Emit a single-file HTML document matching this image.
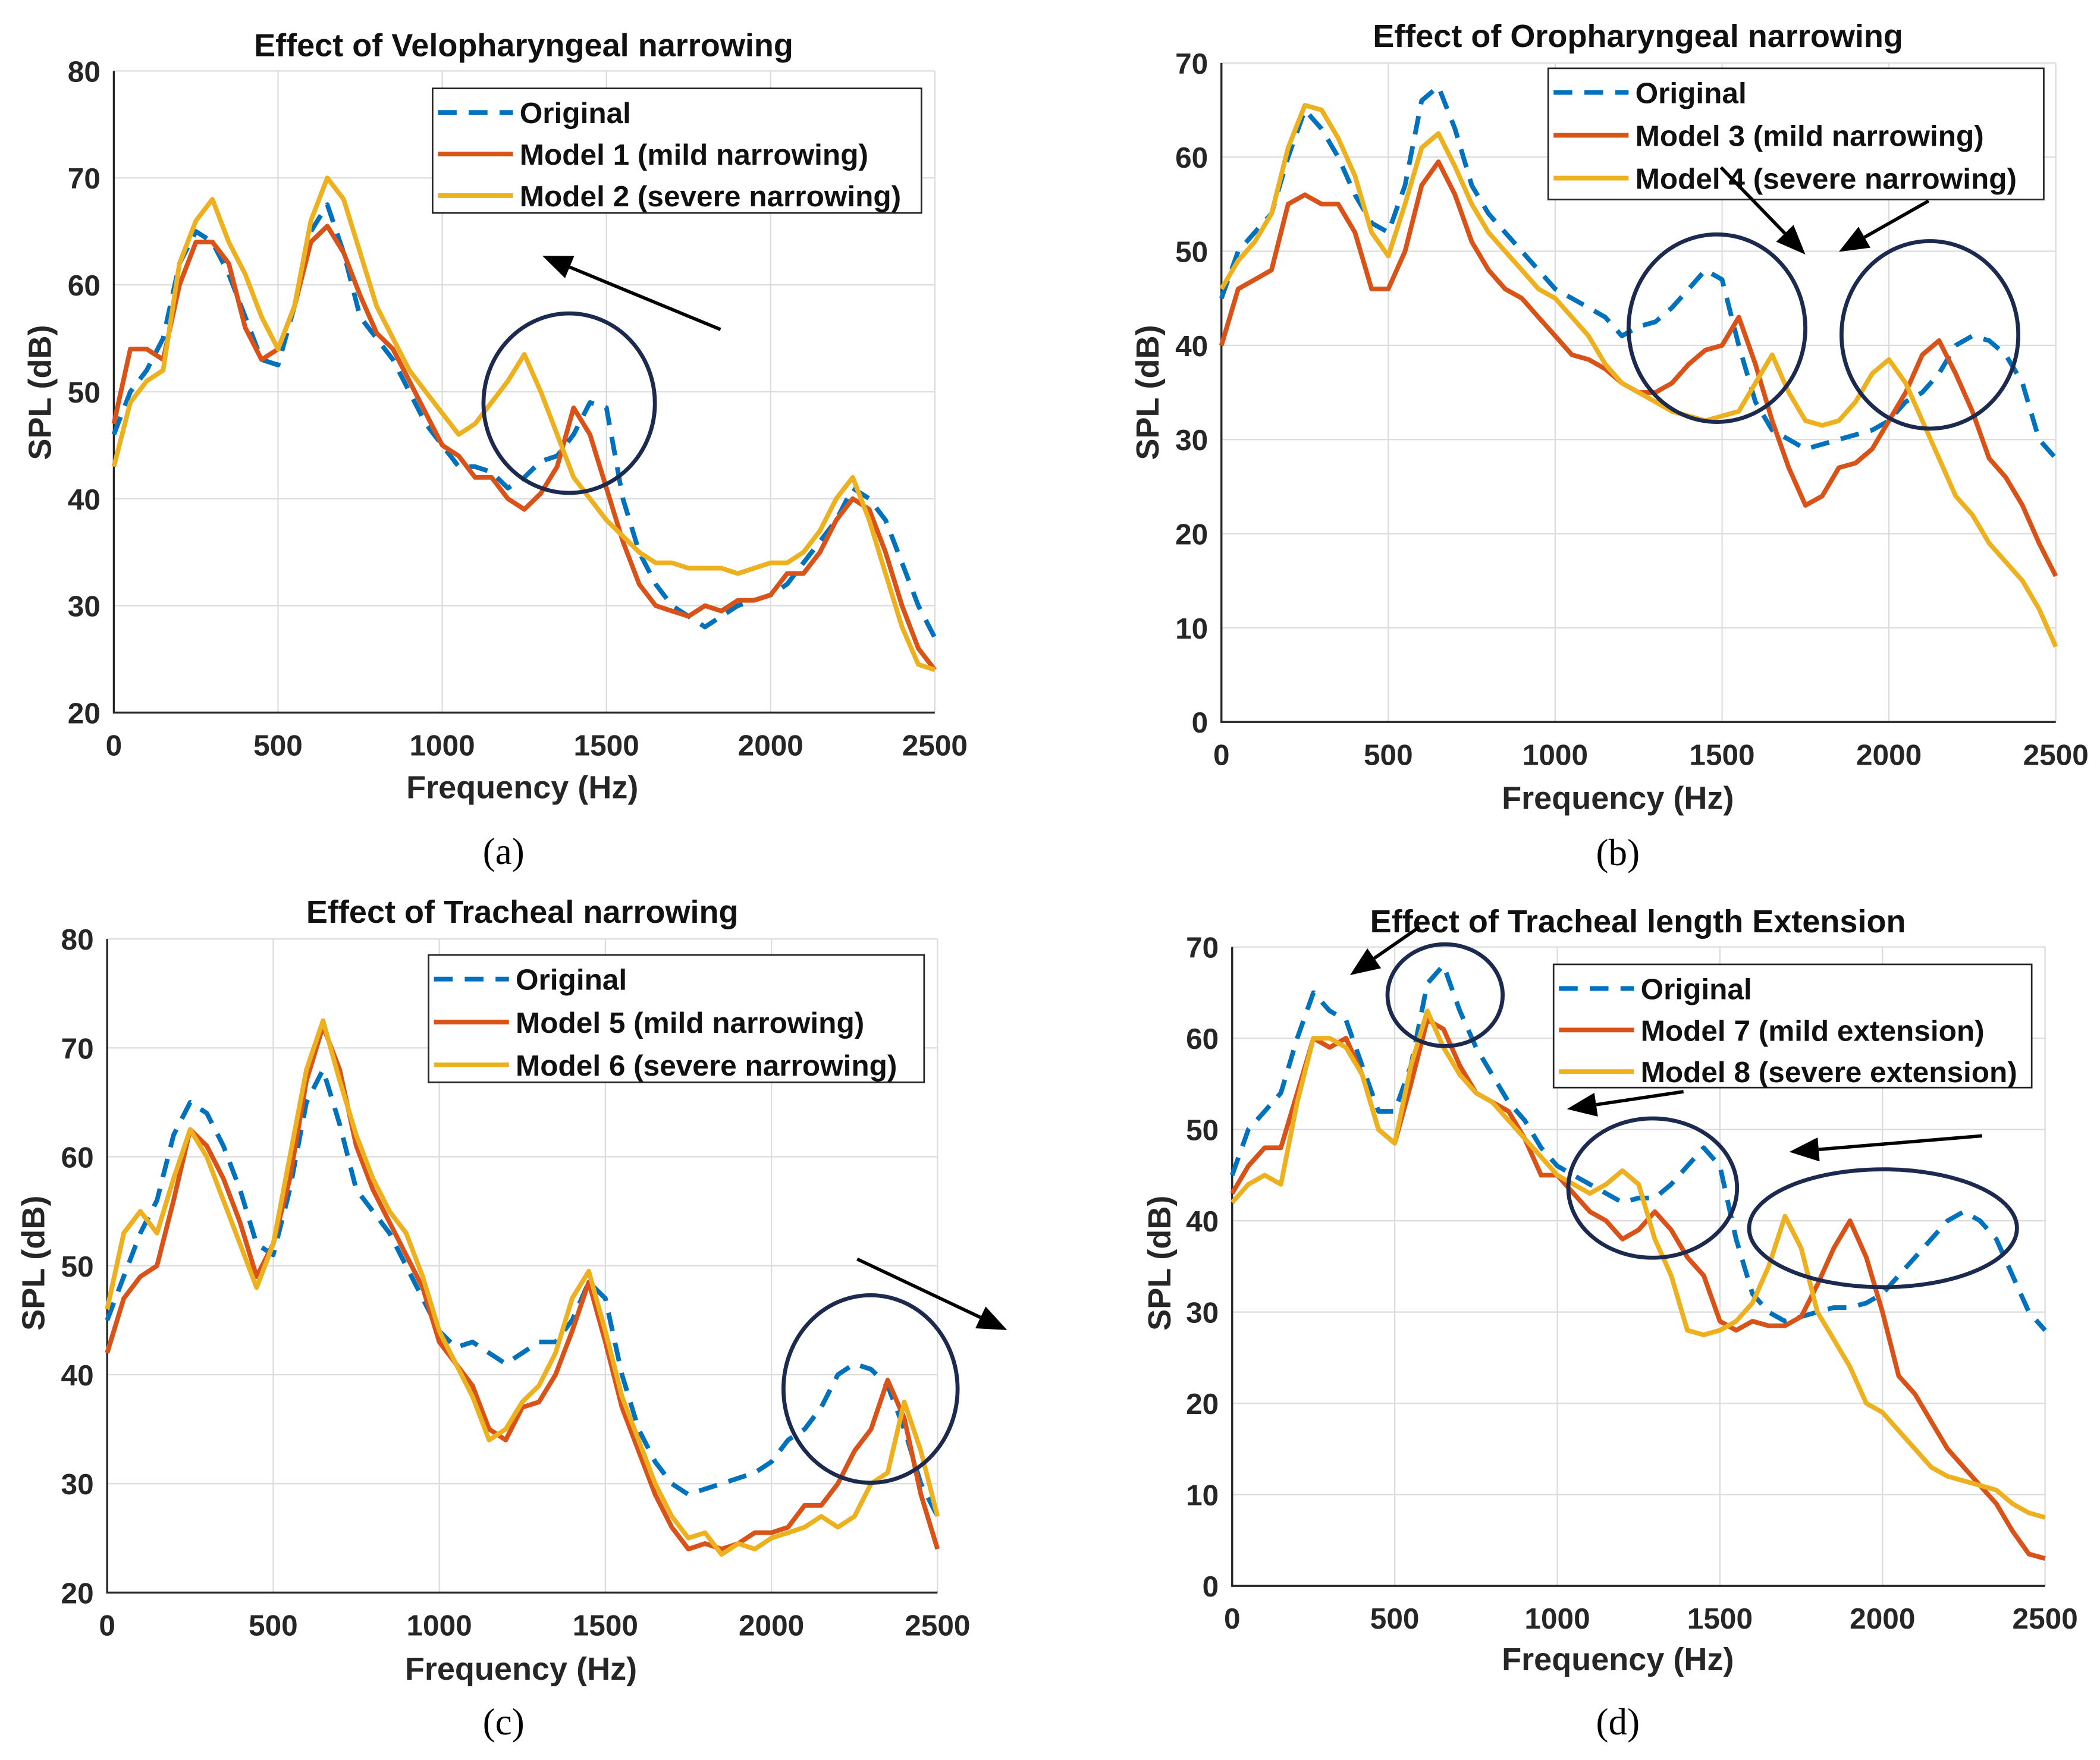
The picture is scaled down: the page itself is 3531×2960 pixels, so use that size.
<!DOCTYPE html>
<html><head><meta charset="utf-8"><style>
html,body{margin:0;padding:0;background:#fff;}
svg{display:block;}
</style></head><body>
<svg id="fig" width="3531" height="2960" viewBox="0 0 1568 1314" preserveAspectRatio="none" xmlns="http://www.w3.org/2000/svg" font-family="Liberation Sans, Arial, sans-serif"></svg>
<script>
const freqs=[];for(let f=0;f<=2500;f+=50)freqs.push(f);
const xTicks=[0,500,1000,1500,2000,2500];
const yTicksA=[20,30,40,50,60,70,80];
const yTicksB=[0,10,20,30,40,50,60,70];
const origA=[46,50,52,55,62,65,64,61,57,53,52.5,58,65,67.5,63,57,55,53,50,47,45,43,43,42.5,41,42,43.5,44,46,49,48.5,40,35,32,30,29,28,29,30,30.5,31,32,34,36,38,41,40,38,34,30,27];
const m1A=[47,54,54,53,60,64,64,62,56,53,54,58,64,65.5,63,59,55.5,54,51,48,45,44,42,42,40,39,40.5,43,48.5,46,41,36,32,30,29.5,29,30,29.5,30.5,30.5,31,33,33,35,38,40,39,35,30,26,24];
const m2A=[43,49,51,52,62,66,68,64,61,57,54,58,66,70,68,63,58,55,52,50,48,46,47,49,51,53.5,50,46,42,40,38,36.5,35,34,34,33.5,33.5,33.5,33,33.5,34,34,35,37,40,42,38,33,28,24.5,24];
const origB=[45,50,52,54,60,65,63,60,56,53,52,57,66,67.5,63,57,54,52,50,48,46,45,44,43,41,42,42.5,44,46,48,47,40,34,31,30,29,29.5,30,30.5,31,32,34,35,37,40,41,40.5,39,36,30,28];
const m3B=[40,46,47,48,55,56,55,55,52,46,46,50,57,59.5,56,51,48,46,45,43,41,39,38.5,37.5,36,35,35,36,38,39.5,40,43,38,32,27,23,24,27,27.5,29,32,35,39,40.5,37,33,28,26,23,19,15.5];
const m4B=[46,49,51,54,61,65.5,65,62,58,52,49.5,55,61,62.5,59,55,52,50,48,46,45,43,41,38,36,35,34,33,32.5,32,32.5,33,36,39,35,32,31.5,32,34,37,38.5,36,32,28,24,22,19,17,15,12,8];
const origC=[45,49,53,56,62,65,64,61,57,52,51,57,65,68,63,57,55,53,50,47,44,42.5,43,42,41,42,43,43,45,48.5,47,40,35,32,30,29,29.5,30,30.5,31,32,34,35,37,40,41,40.5,39,35,30,27];
const m5C=[42,47,49,50,56,62.5,61,58,54,49,52,58,67,72,68,61,57,54,51,48,43,41,39,35,34,37,37.5,40,44,48.5,43,37,33,29,26,24,24.5,24,24.5,25.5,25.5,26,28,28,30,33,35,39.5,36,29,24];
const m6C=[46,53,55,53,58,62.5,60,56,52,48,52,60,68,72.5,67,62,58,55,53,49,44,41,38,34,35,37.5,39,42,47,49.5,44,38,34,30,27,25,25.5,23.5,24.5,24,25,25.5,26,27,26,27,30,31,37.5,33,27];
const origD=[45,50,52,54,60,65,63,62,57,52,52,57,66,68,63,59,56,53,51,48,46,45,44,43,42,42.5,42.5,44,46,48,46,38,32,30,29,29.5,30,30.5,30.5,31,32,34,36,38,40,41,40,38,34,30,28];
const m7D=[43,46,48,48,54,60,59,60,56,50,48.5,55,62,61,57,54,53,52,49,45,45,43,41,40,38,39,41,39,36,34,29,28,29,28.5,28.5,29.5,33,37,40,36,30,23,21,18,15,13,11,9,6,3.5,3];
const m8D=[42,44,45,44,53,60,60,59,56,50,48.5,57,63,59,56,54,53,51,49,47,45,44,43,44,45.5,44,38,34,28,27.5,28,29,31,35,40.5,37,30,27,24,20,19,17,15,13,12,11.5,11,10.5,9,8,7.5];

const NS="http://www.w3.org/2000/svg";
const svg=document.getElementById('fig');
function mk(tag,attrs,parent){const e=document.createElementNS(NS,tag);for(const k in attrs)e.setAttribute(k,attrs[k]);(parent||svg).appendChild(e);return e;}
const BLUE="#0072BD",RED="#D95319",YEL="#EDB120",NAVY="#1b2a4e";

function panel(p){
  const g=mk('g',{});
  
  
  const X=v=>p.x0+(v-0)/2500*(p.x1-p.x0);
  const Y=v=>p.y1-(v-p.ymin)/(p.ymax-p.ymin)*(p.y1-p.y0);
  mk('rect',{x:p.x0,y:p.y0,width:p.x1-p.x0,height:p.y1-p.y0,fill:'#fff'},g);
  xTicks.forEach(t=>{const l=mk('line',{x1:X(t),x2:X(t),y1:p.y0,y2:p.y1,stroke:'#dcdcdc','stroke-width':1},g);
    
    const tx=mk('text',{x:X(t),y:p.y1+32,'text-anchor':'middle','font-size':22,'font-weight':'bold',fill:'#262626'},g);tx.textContent=t;
    });
  p.yt.forEach(t=>{const l=mk('line',{x1:p.x0,x2:p.x1,y1:Y(t),y2:Y(t),stroke:'#dcdcdc','stroke-width':1},g);
    
    const tx=mk('text',{x:p.x0-10,y:Y(t)+8,'text-anchor':'end','font-size':22,'font-weight':'bold',fill:'#262626'},g);tx.textContent=t;
    });
  const ax=mk('path',{d:`M${p.x0},${p.y0}V${p.y1}H${p.x1}`,fill:'none',stroke:'#262626','stroke-width':1.5},g);
  
  p.series.forEach(s=>{
    const d=s.v.map((v,i)=>(i?'L':'M')+X(freqs[i]).toFixed(1)+','+Y(v).toFixed(1)).join('');
    const pa=mk('path',{d:d,fill:'none',stroke:s.c,'stroke-width':3.5,'stroke-linejoin':'round','stroke-dasharray':s.dash?'14,9':'none'},g);
    
  });
  const ti=mk('text',{x:p.tx,y:p.ty,'text-anchor':'middle','font-size':24,'font-weight':'bold',fill:'#111'},g);ti.textContent=p.title;
  
  const xl=mk('text',{x:p.xlx,y:p.xly,'text-anchor':'middle','font-size':24,'font-weight':'bold',fill:'#262626'},g);xl.textContent='Frequency (Hz)';
  
  const yl=mk('text',{x:0,y:0,transform:`translate(${p.ylx},${p.yly}) rotate(-90)`,'text-anchor':'middle','font-size':24,'font-weight':'bold',fill:'#262626'},g);yl.textContent='SPL (dB)';
  
  const L=p.leg;
  const lb=mk('rect',{x:L.x,y:L.y,width:L.w,height:L.h,fill:'#fff',stroke:'#262626','stroke-width':1.2},g);
  
  p.series.forEach((s,i)=>{const yy=L.y+18+i*L.dy;
    const ll=mk('line',{x1:L.x+4,x2:L.x+60,y1:yy,y2:yy,stroke:s.c,'stroke-width':3.5,'stroke-dasharray':s.dash?'14,9':'none'},g);
    
    const lt=mk('text',{x:L.x+65,y:yy+8,'font-size':22,'font-weight':'bold',fill:'#111'},g);lt.textContent=s.label;
    });
  const cp=mk('text',{x:p.cx,y:p.cy,'text-anchor':'middle','font-size':28,fill:'#000',style:'font-family:"Liberation Serif",serif'},g);cp.textContent=p.cap;
  
  (p.ell||[]).forEach(e=>{const el=mk('ellipse',{cx:e[0],cy:e[1],rx:e[2],ry:e[3],fill:'none',stroke:NAVY,'stroke-width':3},g);
    });
  (p.arr||[]).forEach(a=>{const [x1,y1,x2,y2]=a;const ang=Math.atan2(y2-y1,x2-x1);const hl=22,hw=9;
    const bx=x2-hl*Math.cos(ang),by=y2-hl*Math.sin(ang);
    const ln=mk('line',{x1:x1,y1:y1,x2:bx,y2:by,stroke:'#000','stroke-width':2.5},g);
    
    const hd=mk('polygon',{points:`${x2},${y2} ${bx+hw*Math.sin(ang)},${by-hw*Math.cos(ang)} ${bx-hw*Math.sin(ang)},${by+hw*Math.cos(ang)}`,fill:'#000'},g);
    });
}
panel({id:'panel-a',x0:85,x1:698,y0:53,y1:532,ymin:20,ymax:80,yt:yTicksA,title:'Effect of Velopharyngeal narrowing',tx:391,ty:42,xlx:390,xly:596,ylx:38,yly:293,cap:'(a)',cx:376,cy:645,
 series:[{name:'original-line',v:origA,c:BLUE,dash:1,label:'Original'},{name:'model1-line',v:m1A,c:RED,label:'Model 1 (mild narrowing)'},{name:'model2-line',v:m2A,c:YEL,label:'Model 2 (severe narrowing)'}],
 leg:{x:323,y:66,w:365,h:93,dy:31},ell:[[425,301,64,67]],arr:[[538,246,405,191]]});
panel({id:'panel-b',x0:912,x1:1535,y0:47,y1:539,ymin:0,ymax:70,yt:yTicksB,title:'Effect of Oropharyngeal narrowing',tx:1223,ty:35,xlx:1208,xly:604,ylx:865,yly:293,cap:'(b)',cx:1208,cy:646,
 series:[{name:'original-line',v:origB,c:BLUE,dash:1,label:'Original'},{name:'model3-line',v:m3B,c:RED,label:'Model 3 (mild narrowing)'},{name:'model4-line',v:m4B,c:YEL,label:'Model 4 (severe narrowing)'}],
 leg:{x:1156,y:51,w:370,h:98,dy:32},ell:[[1282,245,66,70],[1441,250,66,70]],arr:[[1285,125,1348,190],[1440,150,1373,188]]});
panel({id:'panel-c',x0:80,x1:700,y0:701,y1:1189,ymin:20,ymax:80,yt:yTicksA,title:'Effect of Tracheal narrowing',tx:390,ty:689,xlx:389,xly:1254,ylx:33,yly:943,cap:'(c)',cx:376,cy:1295,
 series:[{name:'original-line',v:origC,c:BLUE,dash:1,label:'Original'},{name:'model5-line',v:m5C,c:RED,label:'Model 5 (mild narrowing)'},{name:'model6-line',v:m6C,c:YEL,label:'Model 6 (severe narrowing)'}],
 leg:{x:320,y:713,w:370,h:95,dy:32},ell:[[650,1037,65,70]],arr:[[640,940,752,993]]});
panel({id:'panel-d',x0:920,x1:1527,y0:707,y1:1184,ymin:0,ymax:70,yt:yTicksB,title:'Effect of Tracheal length Extension',tx:1223,ty:696,xlx:1208,xly:1247,ylx:874,yly:943,cap:'(d)',cx:1208,cy:1295,
 series:[{name:'original-line',v:origD,c:BLUE,dash:1,label:'Original'},{name:'model7-line',v:m7D,c:RED,label:'Model 7 (mild extension)'},{name:'model8-line',v:m8D,c:YEL,label:'Model 8 (severe extension)'}],
 leg:{x:1160,y:720,w:357,h:92,dy:31},ell:[[1079,743,43,38],[1234,887,63,52],[1406,917,100,44]],arr:[[1060,692,1008,728],[1257,815,1170,828],[1480,848,1336,860]]});
</script>
</body></html>
